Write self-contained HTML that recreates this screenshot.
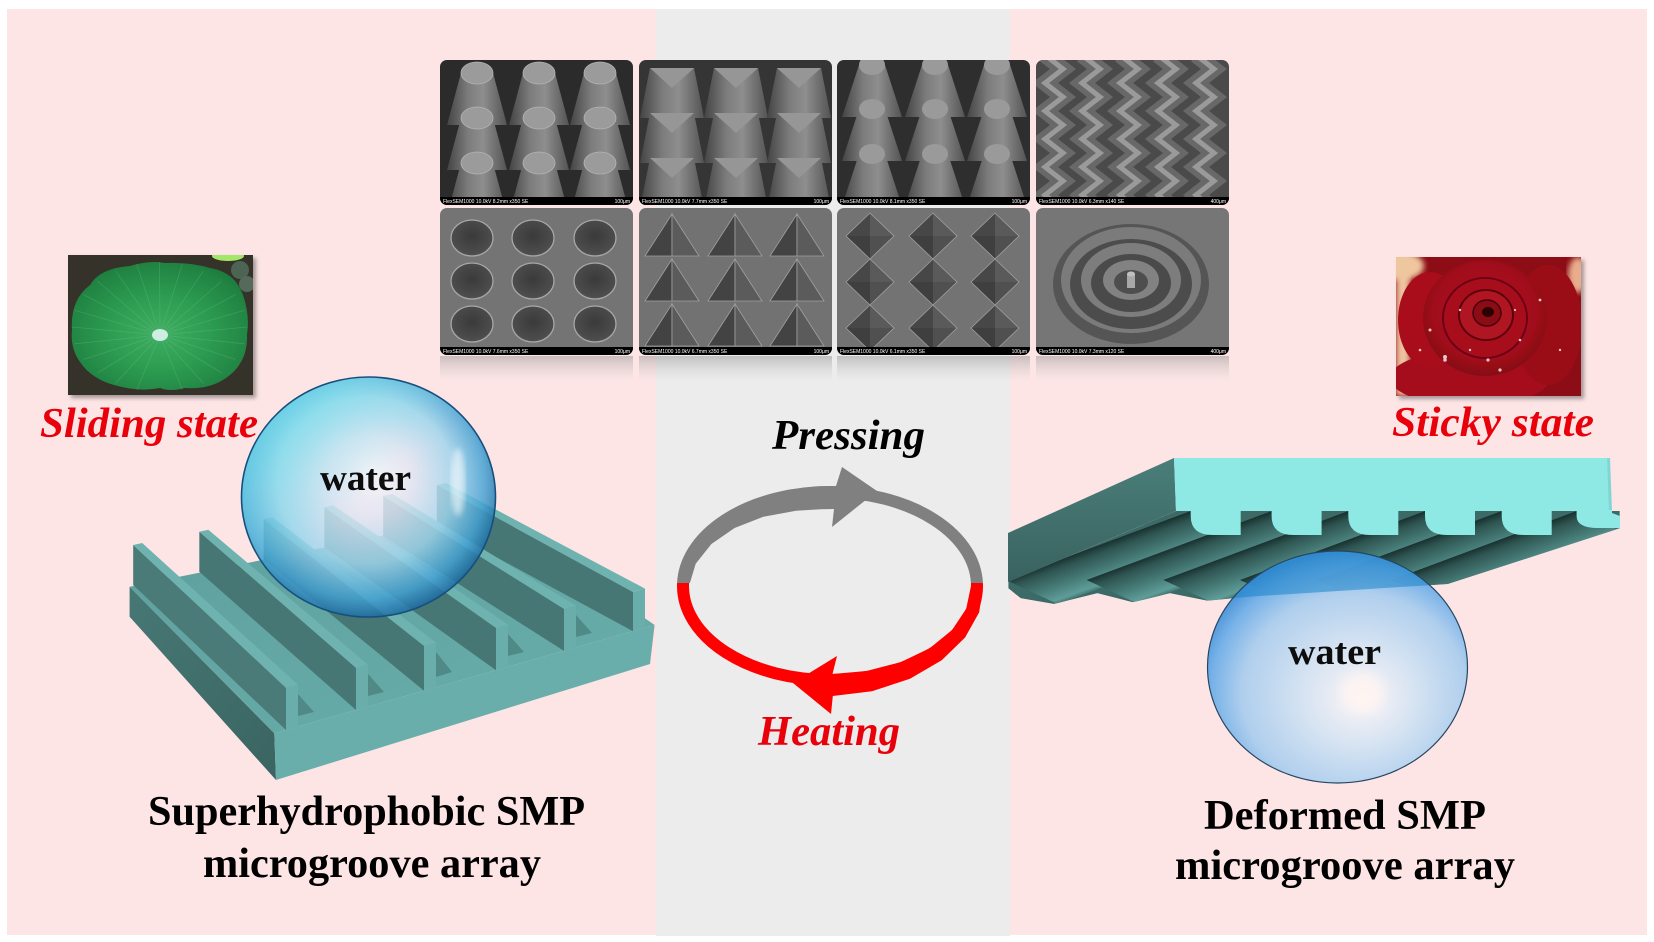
<!DOCTYPE html>
<html><head><meta charset="utf-8"><style>html,body{margin:0;padding:0;background:#fff}svg{display:block}</style></head>
<body>
<svg width="1654" height="942" viewBox="0 0 1654 942" xmlns="http://www.w3.org/2000/svg" xmlns:xlink="http://www.w3.org/1999/xlink" font-family="'Liberation Serif', serif">
<defs>
  <filter id="sh" x="-10%" y="-10%" width="130%" height="130%"><feDropShadow dx="3" dy="3" stdDeviation="2" flood-color="#000" flood-opacity="0.35"/></filter>
  <filter id="blur3"><feGaussianBlur stdDeviation="3"/></filter>
  <filter id="blur6"><feGaussianBlur stdDeviation="6"/></filter>
  <clipPath id="clipT"><rect x="0" y="0" width="193" height="145" rx="7"/></clipPath>
  <clipPath id="clipB"><rect x="0" y="0" width="193" height="147" rx="7"/></clipPath>
  <clipPath id="arTop"><rect x="600" y="400" width="450" height="183"/></clipPath>
  <clipPath id="arBot"><rect x="600" y="583" width="450" height="200"/></clipPath>
  <clipPath id="lotusClip"><rect x="68" y="255" width="185" height="140"/></clipPath>
  <clipPath id="roseClip"><rect x="1396" y="257" width="185" height="139"/></clipPath>
  <clipPath id="underClip"><polygon points="1008.3,581.7 1176,511 1619.8,511 1619.8,528.3 1447.8,584 1248.8,596.7 1207.3,600.7 1170,593.3 1132.7,602.3 1097.4,593.3 1053.9,604 1020.7,598.3 1008.3,588.3"/></clipPath>
  <clipPath id="dropClip"><ellipse cx="1337.5" cy="667" rx="130" ry="116"/></clipPath>

  <linearGradient id="cone" x1="0" y1="0" x2="1" y2="0">
    <stop offset="0" stop-color="#444"/><stop offset="0.35" stop-color="#7c7c7c"/><stop offset="0.6" stop-color="#8e8e8e"/><stop offset="1" stop-color="#535353"/>
  </linearGradient>
  <radialGradient id="hole" cx="0.5" cy="0.45" r="0.6">
    <stop offset="0" stop-color="#3a3a3a"/><stop offset="0.8" stop-color="#4c4c4c"/><stop offset="1" stop-color="#5c5c5c"/>
  </radialGradient>
  <linearGradient id="refl" x1="0" y1="0" x2="0" y2="1">
    <stop offset="0" stop-color="#8a8a8a" stop-opacity="0.45"/><stop offset="1" stop-color="#c8c8c8" stop-opacity="0"/>
  </linearGradient>
  <radialGradient id="leaf" cx="0.5" cy="0.55" r="0.62">
    <stop offset="0" stop-color="#3fae62"/><stop offset="0.5" stop-color="#2c9a50"/><stop offset="1" stop-color="#1c7a3c"/>
  </radialGradient>
  <radialGradient id="roseG" cx="0.5" cy="0.45" r="0.6">
    <stop offset="0" stop-color="#b8121f"/><stop offset="0.7" stop-color="#a00e1a"/><stop offset="1" stop-color="#7a0812"/>
  </radialGradient>
  <linearGradient id="slabL" x1="0" y1="0" x2="1" y2="1">
    <stop offset="0" stop-color="#477875"/><stop offset="1" stop-color="#3a6461"/>
  </linearGradient>
  <linearGradient id="floorG" x1="0" y1="0" x2="1" y2="1">
    <stop offset="0" stop-color="#5e9f9c"/><stop offset="1" stop-color="#69afac"/>
  </linearGradient>
  <linearGradient id="plateL" x1="0" y1="0" x2="0" y2="1">
    <stop offset="0" stop-color="#4a7e7a"/><stop offset="1" stop-color="#39625f"/>
  </linearGradient>
  <linearGradient id="ribG" gradientUnits="userSpaceOnUse" x1="0" y1="0" x2="14" y2="38">
    <stop offset="0" stop-color="#18302e"/><stop offset="0.2" stop-color="#2e5451"/><stop offset="0.65" stop-color="#4a817d"/><stop offset="0.92" stop-color="#5f9d99"/><stop offset="1" stop-color="#497f7b"/>
  </linearGradient>
  <polygon id="rib" points="0,0 52,24 -133,93 -185,69" fill="url(#ribG)"/>
  <path id="hook" d="M0,0 H50 V25 H22 Q0,25 0,6 Z" fill="#8ee9e5"/>

  <radialGradient id="sphL" cx="0.47" cy="0.45" r="0.56" fx="0.52" fy="0.4">
    <stop offset="0" stop-color="#f7f5fb"/><stop offset="0.3" stop-color="#e0e5f3"/><stop offset="0.62" stop-color="#9fd5ec"/><stop offset="0.86" stop-color="#43a1d3"/><stop offset="1" stop-color="#1b679f"/>
  </radialGradient>
  <linearGradient id="cyanL" x1="0" y1="0" x2="1" y2="1">
    <stop offset="0" stop-color="#62e4ee" stop-opacity="0.75"/><stop offset="0.5" stop-color="#62e4ee" stop-opacity="0"/>
  </linearGradient>
  <radialGradient id="dropR" cx="0.55" cy="0.6" r="0.6" fx="0.6" fy="0.64">
    <stop offset="0" stop-color="#fff7f4"/><stop offset="0.12" stop-color="#eef0f6"/><stop offset="0.38" stop-color="#cfe2f3"/><stop offset="0.72" stop-color="#a7ccee"/><stop offset="0.9" stop-color="#68ace8"/><stop offset="1" stop-color="#3b8ed8"/>
  </radialGradient>

  <g id="t1row">
    <path d="M21,0 L7,52 L67,52 L53,0Z" fill="url(#cone)"/><ellipse cx="37" cy="0" rx="16" ry="11" fill="#9b9b9b" stroke="#b4b4b4" stroke-width="0.8"/>
    <path d="M83,0 L69,52 L129,52 L115,0Z" fill="url(#cone)"/><ellipse cx="99" cy="0" rx="16" ry="11" fill="#9b9b9b" stroke="#b4b4b4" stroke-width="0.8"/>
    <path d="M144,0 L130,52 L190,52 L176,0Z" fill="url(#cone)"/><ellipse cx="160" cy="0" rx="16" ry="11" fill="#9b9b9b" stroke="#b4b4b4" stroke-width="0.8"/>
  </g>
  <g id="t2row">
    <path d="M11,0 L1,50 L65,50 L55,0Z" fill="url(#cone)"/><path d="M11,0 L55,0 L33,20Z" fill="#969696"/>
    <path d="M75,0 L65,50 L129,50 L119,0Z" fill="url(#cone)"/><path d="M75,0 L119,0 L97,20Z" fill="#969696"/>
    <path d="M138,0 L128,50 L192,50 L182,0Z" fill="url(#cone)"/><path d="M138,0 L182,0 L160,20Z" fill="#969696"/>
  </g>
  <g id="t3row">
    <path d="M22,0 L5,52 L65,52 L48,0Z" fill="url(#cone)"/><ellipse cx="35" cy="0" rx="13" ry="10" fill="#9a9a9a"/>
    <path d="M85,0 L68,52 L128,52 L111,0Z" fill="url(#cone)"/><ellipse cx="98" cy="0" rx="13" ry="10" fill="#9a9a9a"/>
    <path d="M147,0 L130,52 L190,52 L173,0Z" fill="url(#cone)"/><ellipse cx="160" cy="0" rx="13" ry="10" fill="#9a9a9a"/>
  </g>
  <polyline id="zz" points="-9,-5 9,9 -9,23 9,37 -9,51 9,65 -9,79 9,93 -9,107 9,121 -9,135 9,149" fill="none"/>
  <g id="b1row">
    <ellipse cx="32" cy="0" rx="21" ry="18" fill="url(#hole)" stroke="#a8a8a8" stroke-width="1.3"/>
    <ellipse cx="93" cy="0" rx="21" ry="18" fill="url(#hole)" stroke="#a8a8a8" stroke-width="1.3"/>
    <ellipse cx="155" cy="0" rx="21" ry="18" fill="url(#hole)" stroke="#a8a8a8" stroke-width="1.3"/>
  </g>
  <g id="b2row" stroke="#a0a0a0" stroke-width="0.8">
    <path d="M33,-24 L33,18 L6,18Z" fill="#434343"/><path d="M33,-24 L60,18 L33,18Z" fill="#5b5b5b"/>
    <path d="M96,-24 L96,18 L69,18Z" fill="#434343"/><path d="M96,-24 L123,18 L96,18Z" fill="#5b5b5b"/>
    <path d="M158,-24 L158,18 L131,18Z" fill="#434343"/><path d="M158,-24 L185,18 L158,18Z" fill="#5b5b5b"/>
  </g>
  <g id="dia">
    <path d="M0,-23 L-24,0 L0,0Z" fill="#474747"/><path d="M0,-23 L0,0 L24,0Z" fill="#5a5a5a"/>
    <path d="M-24,0 L0,23 L0,0Z" fill="#3f3f3f"/><path d="M0,0 L0,23 L24,0Z" fill="#505050"/>
    <path d="M0,-23 L24,0 L0,23 L-24,0Z" fill="none" stroke="#a0a0a0" stroke-width="0.8"/>
  </g>
  <g id="b3row"><use xlink:href="#dia" x="33"/><use xlink:href="#dia" x="96"/><use xlink:href="#dia" x="158"/></g>
</defs>

<!-- backgrounds -->
<rect width="1654" height="942" fill="#fff"/>
<rect x="7" y="9" width="649" height="926" fill="#fde5e6"/>
<rect x="656" y="9" width="354" height="927" fill="#ececec"/>
<rect x="1010" y="9" width="637" height="926" fill="#fde5e6"/>

<!-- SEM panels top row -->
<g transform="translate(440,60)"><g clip-path="url(#clipT)">
  <rect width="193" height="145" fill="#2b2b2b"/>
  <use xlink:href="#t1row" y="13"/><use xlink:href="#t1row" y="58"/><use xlink:href="#t1row" y="103"/>
  <rect y="137" width="193" height="8" fill="#000"/>
  <text x="3" y="143" font-family="'Liberation Sans',sans-serif" font-size="5" fill="#fff">FlexSEM1000 10.0kV 8.2mm x350 SE</text>
  <text x="190" y="143" text-anchor="end" font-family="'Liberation Sans',sans-serif" font-size="5" fill="#fff">100μm</text>
</g></g>
<g transform="translate(639,60)"><g clip-path="url(#clipT)">
  <rect width="193" height="145" fill="#353535"/>
  <use xlink:href="#t2row" y="8"/><use xlink:href="#t2row" y="53"/><use xlink:href="#t2row" y="98"/>
  <rect y="137" width="193" height="8" fill="#000"/>
  <text x="3" y="143" font-family="'Liberation Sans',sans-serif" font-size="5" fill="#fff">FlexSEM1000 10.0kV 7.7mm x350 SE</text>
  <text x="190" y="143" text-anchor="end" font-family="'Liberation Sans',sans-serif" font-size="5" fill="#fff">100μm</text>
</g></g>
<g transform="translate(837,60)"><g clip-path="url(#clipT)">
  <rect width="193" height="145" fill="#2e2e2e"/>
  <use xlink:href="#t3row" y="5"/><use xlink:href="#t3row" y="49"/><use xlink:href="#t3row" y="94"/>
  <rect y="137" width="193" height="8" fill="#000"/>
  <text x="3" y="143" font-family="'Liberation Sans',sans-serif" font-size="5" fill="#fff">FlexSEM1000 10.0kV 8.1mm x350 SE</text>
  <text x="190" y="143" text-anchor="end" font-family="'Liberation Sans',sans-serif" font-size="5" fill="#fff">100μm</text>
</g></g>
<g transform="translate(1036,60)"><g clip-path="url(#clipT)">
  <rect width="193" height="145" fill="#4a4a4a"/>
  <g stroke="#686868" stroke-width="16"><use xlink:href="#zz" x="18"/><use xlink:href="#zz" x="55"/><use xlink:href="#zz" x="93"/><use xlink:href="#zz" x="131"/><use xlink:href="#zz" x="169"/></g>
  <g stroke="#9a9a9a" stroke-width="5"><use xlink:href="#zz" x="18"/><use xlink:href="#zz" x="55"/><use xlink:href="#zz" x="93"/><use xlink:href="#zz" x="131"/><use xlink:href="#zz" x="169"/></g>
  <rect y="137" width="193" height="8" fill="#000"/>
  <text x="3" y="143" font-family="'Liberation Sans',sans-serif" font-size="5" fill="#fff">FlexSEM1000 10.0kV 6.3mm x140 SE</text>
  <text x="190" y="143" text-anchor="end" font-family="'Liberation Sans',sans-serif" font-size="5" fill="#fff">400μm</text>
</g></g>

<!-- SEM panels bottom row -->
<g transform="translate(440,208)"><g clip-path="url(#clipB)">
  <rect width="193" height="147" fill="#747474"/>
  <use xlink:href="#b1row" y="30"/><use xlink:href="#b1row" y="73"/><use xlink:href="#b1row" y="116"/>
  <rect y="139" width="193" height="8" fill="#000"/>
  <text x="3" y="145" font-family="'Liberation Sans',sans-serif" font-size="5" fill="#fff">FlexSEM1000 10.0kV 7.6mm x350 SE</text>
  <text x="190" y="145" text-anchor="end" font-family="'Liberation Sans',sans-serif" font-size="5" fill="#fff">100μm</text>
</g></g>
<g transform="translate(639,208)"><g clip-path="url(#clipB)">
  <rect width="193" height="147" fill="#727272"/>
  <use xlink:href="#b2row" y="30"/><use xlink:href="#b2row" y="75"/><use xlink:href="#b2row" y="120"/>
  <rect y="139" width="193" height="8" fill="#000"/>
  <text x="3" y="145" font-family="'Liberation Sans',sans-serif" font-size="5" fill="#fff">FlexSEM1000 10.0kV 6.7mm x350 SE</text>
  <text x="190" y="145" text-anchor="end" font-family="'Liberation Sans',sans-serif" font-size="5" fill="#fff">100μm</text>
</g></g>
<g transform="translate(837,208)"><g clip-path="url(#clipB)">
  <rect width="193" height="147" fill="#737373"/>
  <use xlink:href="#b3row" y="28"/><use xlink:href="#b3row" y="74"/><use xlink:href="#b3row" y="120"/>
  <rect y="139" width="193" height="8" fill="#000"/>
  <text x="3" y="145" font-family="'Liberation Sans',sans-serif" font-size="5" fill="#fff">FlexSEM1000 10.0kV 6.1mm x350 SE</text>
  <text x="190" y="145" text-anchor="end" font-family="'Liberation Sans',sans-serif" font-size="5" fill="#fff">100μm</text>
</g></g>
<g transform="translate(1036,208)"><g clip-path="url(#clipB)">
  <rect width="193" height="147" fill="#767676"/>
  <ellipse cx="95" cy="76" rx="78" ry="60" fill="#555"/>
  <ellipse cx="95" cy="72" rx="70" ry="53" fill="#7b7b7b"/>
  <ellipse cx="95" cy="76" rx="61" ry="45" fill="#4c4c4c"/>
  <ellipse cx="95" cy="72" rx="50" ry="37" fill="#7d7d7d"/>
  <ellipse cx="95" cy="75" rx="40" ry="29" fill="#4a4a4a"/>
  <ellipse cx="95" cy="72" rx="28" ry="20" fill="#828282"/>
  <ellipse cx="95" cy="74" rx="17" ry="12" fill="#4e4e4e"/>
  <rect x="91" y="66" width="8" height="14" fill="#a8a8a8"/><ellipse cx="95" cy="66" rx="4" ry="2.5" fill="#c0c0c0"/>
  <rect y="139" width="193" height="8" fill="#000"/>
  <text x="3" y="145" font-family="'Liberation Sans',sans-serif" font-size="5" fill="#fff">FlexSEM1000 10.0kV 7.3mm x120 SE</text>
  <text x="190" y="145" text-anchor="end" font-family="'Liberation Sans',sans-serif" font-size="5" fill="#fff">400μm</text>
</g></g>
<!-- reflections -->
<rect x="440" y="356" width="193" height="26" fill="url(#refl)"/>
<rect x="639" y="356" width="193" height="26" fill="url(#refl)"/>
<rect x="837" y="356" width="193" height="26" fill="url(#refl)"/>
<rect x="1036" y="356" width="193" height="26" fill="url(#refl)"/>

<!-- lotus photo -->
<g filter="url(#sh)">
<g clip-path="url(#lotusClip)">
  <rect x="68" y="255" width="185" height="140" fill="#35302b"/>
  <ellipse cx="228" cy="256" rx="16" ry="5" fill="#a4e66a"/>
  <circle cx="240" cy="270" r="9" fill="#4e6452"/><circle cx="247" cy="284" r="8" fill="#56695a"/>
  <path d="M72,330 Q70,300 90,285 Q100,268 130,266 Q150,260 165,263 Q190,262 210,268 Q235,272 243,295 Q250,315 247,335 Q248,360 230,375 Q212,390 185,388 Q170,392 160,388 Q140,392 118,386 Q92,380 80,362 Q70,348 72,330 Z" fill="url(#leaf)"/>
  <path d="M160,335 L247.5,327 M160,335 L244.5,343.8 M160,335 L235.7,359.5 M160,335 L221.7,373 M160,335 L203.5,383.3 M160,335 L182.3,389.8 M160,335 L136.7,389.8 M160,335 L115.5,383.3 M160,335 L97.3,373 M160,335 L83.3,359.5 M160,335 L74.5,343.8 M160,335 L71.5,327 M160,335 L74.5,310.2 M160,335 L83.3,294.5 M160,335 L97.3,281 M160,335 L115.5,270.7 M160,335 L136.7,264.2 M160,335 L159.5,262 M160,335 L182.3,264.2 M160,335 L203.5,270.7 M160,335 L221.7,281 M160,335 L235.7,294.5 M160,335 L244.5,310.2" stroke="#7fd09a" stroke-opacity="0.25" stroke-width="0.8"/>
  <ellipse cx="160" cy="335" rx="8" ry="6" fill="#cfeee2"/>
</g>
</g>

<!-- rose photo -->
<g filter="url(#sh)">
<g clip-path="url(#roseClip)">
  <rect x="1396" y="257" width="185" height="139" fill="#8c0c16"/>
  <rect x="1396" y="257" width="14" height="139" fill="#efc3a0" filter="url(#blur3)"/>
  <ellipse cx="1402" cy="266" rx="22" ry="14" fill="#efc79e" filter="url(#blur3)"/>
  <ellipse cx="1578" cy="275" rx="10" ry="18" fill="#e8ad8c" filter="url(#blur3)"/>
  <ellipse cx="1470" cy="378" rx="80" ry="28" fill="#a50f1b"/>
  <ellipse cx="1548" cy="325" rx="34" ry="60" fill="#9a0c18"/>
  <ellipse cx="1430" cy="320" rx="32" ry="48" fill="#a90f1c"/>
  <ellipse cx="1485" cy="318" rx="62" ry="58" fill="url(#roseG)"/>
  <ellipse cx="1485" cy="318" rx="42" ry="40" fill="#a8101e" stroke="#6c0612" stroke-width="2"/>
  <ellipse cx="1486" cy="315" rx="27" ry="25" fill="#b01422" stroke="#5c0410" stroke-width="2"/>
  <ellipse cx="1487" cy="313" rx="14" ry="13" fill="#8a0a14" stroke="#4a0008" stroke-width="1.5"/>
  <ellipse cx="1488" cy="312" rx="6" ry="5" fill="#2a0004"/>
  <g fill="#ffe4e4" opacity="0.85">
    <circle cx="1430" cy="330" r="1.5"/><circle cx="1445" cy="360" r="1.8"/><circle cx="1520" cy="340" r="1.3"/><circle cx="1470" cy="350" r="1.2"/><circle cx="1540" cy="300" r="1.4"/><circle cx="1500" cy="370" r="1.6"/><circle cx="1460" cy="310" r="1.2"/><circle cx="1515" cy="310" r="1.1"/><circle cx="1420" cy="350" r="1.3"/><circle cx="1560" cy="350" r="1.2"/><circle cx="1445" cy="357" r="2"/><circle cx="1488" cy="360" r="1.6"/>
  </g>
</g>
</g>

<!-- LEFT slab -->
<polygon points="129.6,586.7 274.3,733.3 276,780 129.6,616.7" fill="url(#slabL)"/>
<polygon points="274.3,733.3 654.6,625 650,664 276,780" fill="#6aaeab"/>
<polygon points="129.6,586.7 494,513.3 654.6,625 274.3,733.3" fill="url(#floorG)"/>
<!-- groove shadows -->
<g fill="#3f706d" opacity="0.55">
  <polygon points="298,694 298,716 314,712"/>
  <polygon points="368,674 368,696 384,692"/>
  <polygon points="436,652 436,677 452,672"/>
  <polygon points="508,634 508,656 524,652"/>
  <polygon points="576,615 576,637 592,633"/>
</g>
<!-- ridges r6..r1 -->
<g>
  <polygon points="436.8,485 633,592 645,588.6 445.8,483" fill="#6fb3b0"/>
  <polygon points="633,592 645,588.6 645,627.8 633,631.2" fill="#6aaeab"/>
  <polygon points="436.8,485 633,592 633,631.2 436.8,525" fill="#477774"/>

  <polygon points="383.2,496 564,609 576,605.6 392.2,494" fill="#6fb3b0"/>
  <polygon points="564,609 576,605.6 576,647.5 564,650.9" fill="#6aaeab"/>
  <polygon points="383.2,496 564,609 564,650.9 383.2,536" fill="#477774"/>

  <polygon points="324.3,507.3 496,628 508,624.6 333.3,505.3" fill="#6fb3b0"/>
  <polygon points="496,628 508,624.6 508,666.8 496,670.2" fill="#6aaeab"/>
  <polygon points="324.3,507.3 496,628 496,670.2 324.3,547.3" fill="#477774"/>

  <polygon points="263.6,519.3 424,646 436,642.6 272.6,517.3" fill="#6fb3b0"/>
  <polygon points="424,646 436,642.6 436,687.3 424,690.7" fill="#6aaeab"/>
  <polygon points="263.6,519.3 424,646 424,690.7 263.6,559.3" fill="#477774"/>

  <polygon points="199.3,531.7 356,668 368,664.6 208.3,529.7" fill="#6fb3b0"/>
  <polygon points="356,668 368,664.6 368,706.6 356,710" fill="#6aaeab"/>
  <polygon points="199.3,531.7 356,668 356,710 199.3,571.7" fill="#477774"/>

  <polygon points="133.2,545 286,688 298,684.6 142.2,543" fill="#6fb3b0"/>
  <polygon points="286,688 298,684.6 298,726.6 286,730" fill="#6aaeab"/>
  <polygon points="133.2,545 286,688 286,730 133.2,585" fill="#4a7b78"/>
</g>

<!-- LEFT sphere -->
<ellipse cx="368.5" cy="497" rx="127" ry="120" fill="url(#sphL)" fill-opacity="0.84"/>
<ellipse cx="368.5" cy="497" rx="127" ry="120" fill="url(#cyanL)"/>
<ellipse cx="458" cy="482" rx="7" ry="34" fill="#fff" opacity="0.55" filter="url(#blur3)"/>
<ellipse cx="368.5" cy="497" rx="127" ry="120" fill="none" stroke="#174f7c" stroke-width="1.6"/>

<!-- RIGHT plate -->
<g clip-path="url(#underClip)">
  <polygon points="1008.3,581.7 1176,511 1619.8,511 1619.8,528.3 1447.8,584 1248.8,596.7 1207.3,600.7 1170,593.3 1132.7,602.3 1097.4,593.3 1053.9,604 1020.7,598.3 1008.3,588.3" fill="#3c6a67"/>
  <use xlink:href="#rib" x="1190.7" y="511"/>
  <use xlink:href="#rib" x="1271.6" y="511"/>
  <use xlink:href="#rib" x="1348.3" y="511"/>
  <use xlink:href="#rib" x="1425" y="511"/>
  <use xlink:href="#rib" x="1501.7" y="511"/>
  <use xlink:href="#rib" x="1576.6" y="511"/>
</g>
<polygon points="1174,458 1008,533 1008,582 1176,511" fill="url(#plateL)"/>
<polygon points="1174,458 1607,458 1610,511 1176,511" fill="#8ee9e5"/>
<polygon points="1607,458 1610,458 1612,511 1609,511" fill="#7fd6d2"/>
<use xlink:href="#hook" x="1190.7" y="510"/>
<use xlink:href="#hook" x="1271.6" y="510"/>
<use xlink:href="#hook" x="1348.3" y="510"/>
<use xlink:href="#hook" x="1425" y="510"/>
<use xlink:href="#hook" x="1501.7" y="510"/>
<path d="M1576.6,510 H1612 V513 L1620,516 V528 H1598 Q1576.6,528 1576.6,516 Z" fill="#8ee9e5"/>

<!-- RIGHT drop -->
<ellipse cx="1337.5" cy="667" rx="130" ry="116" fill="url(#dropR)" fill-opacity="0.9"/>
<g clip-path="url(#dropClip)">
  <polygon points="1008.3,581.7 1176,511 1619.8,511 1619.8,528.3 1447.8,584 1248.8,596.7 1207.3,600.7 1170,593.3 1132.7,602.3 1097.4,593.3 1053.9,604 1020.7,598.3 1008.3,588.3" fill="#2a8cd2" opacity="0.55"/>
  <ellipse cx="1362" cy="692" rx="22" ry="20" fill="#fff5f2" opacity="0.8" filter="url(#blur6)"/>
</g>
<ellipse cx="1337.5" cy="667" rx="130" ry="116" fill="none" stroke="#27465f" stroke-width="1.2"/>

<!-- cycle arrows -->
<ellipse cx="830" cy="586" rx="147" ry="94" fill="none" stroke="#808080" stroke-width="12" clip-path="url(#arTop)"/>
<ellipse cx="830" cy="586" rx="147" ry="94" fill="none" stroke="#ff0000" stroke-width="12" clip-path="url(#arBot)"/>
<polygon clip-path="url(#arTop)" fill="#808080" points="677,586 682.2,560.1 697.5,536 721.8,515.3 753.5,499.4 790.4,489.4 819.3,486.2 836,486 842,467 877,491 832,527 834,509 820.9,509.2 796.1,510.7 763.5,516.7 734.6,528 711.4,544 695.7,563.7 689,586"/>
<polygon clip-path="url(#arBot)" fill="#ff0000" points="983,586 979.2,612.3 965.1,637.5 941.7,660.2 910,678.7 871.9,691.3 832.8,696 831,714 793,683 837,656 832.5,674 866.5,671 900.5,662.2 929.7,648.2 952.1,630 966.2,608.8 971,586"/>

<!-- texts -->
<g font-family="'Liberation Serif', serif" font-weight="bold">
  <text x="40" y="437" font-size="42" font-style="italic" fill="#e8000b" textLength="218" lengthAdjust="spacingAndGlyphs">Sliding state</text>
  <text x="1392" y="436" font-size="42" font-style="italic" fill="#e8000b" textLength="202" lengthAdjust="spacingAndGlyphs">Sticky state</text>
  <text x="772" y="449" font-size="42" font-style="italic" fill="#000" textLength="153" lengthAdjust="spacingAndGlyphs">Pressing</text>
  <text x="758" y="745" font-size="42" font-style="italic" fill="#e8000b" textLength="142" lengthAdjust="spacingAndGlyphs">Heating</text>
  <text x="320" y="490" font-size="37" fill="#0d0d0d" textLength="91" lengthAdjust="spacingAndGlyphs">water</text>
  <text x="1288" y="664" font-size="37" fill="#0d0d0d" textLength="93" lengthAdjust="spacingAndGlyphs">water</text>
  <text x="148" y="825" font-size="42" fill="#000" textLength="437" lengthAdjust="spacingAndGlyphs">Superhydrophobic SMP</text>
  <text x="203" y="877" font-size="42" fill="#000" textLength="338" lengthAdjust="spacingAndGlyphs">microgroove array</text>
  <text x="1204" y="829" font-size="42" fill="#000" textLength="282" lengthAdjust="spacingAndGlyphs">Deformed SMP</text>
  <text x="1175" y="879" font-size="42" fill="#000" textLength="340" lengthAdjust="spacingAndGlyphs">microgroove array</text>
</g>
</svg>
</body></html>
